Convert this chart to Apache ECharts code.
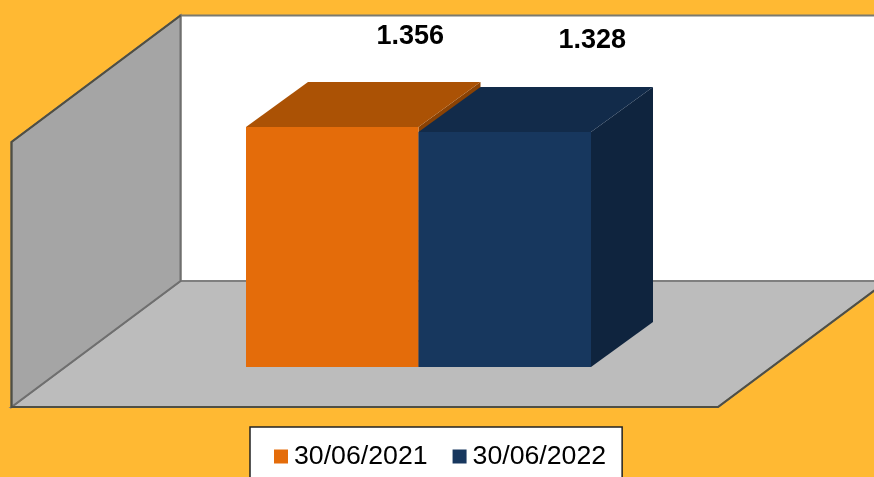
<!DOCTYPE html>
<html>
<head>
<meta charset="utf-8">
<style>html,body{margin:0;padding:0;background:#FFB933;overflow:hidden}#c{width:874px;height:477px}</style>
<script src="https://cdn.jsdelivr.net/npm/echarts@6/dist/echarts.min.js"></script>
</head>
<body>
<div id="c"></div>
<script>
var categories = [''];
var seriesNames = ['30/06/2021', '30/06/2022'];
var values2021 = [1.356];
var values2022 = [1.328];

var DEPTH_X = 62, DEPTH_Y = 45, BAR_FRACTION = 172.5 / 707;
var faces = [
  { front: '#E46C0A', top: '#AB5205', side: '#8A4204', labelDx: 78, labelDy: -90.5 },
  { front: '#17375E', top: '#122B4A', side: '#0F243E', labelDx: 87.5, labelDy: -91.5 }
];

function renderBar(params, api) {
  var idx = params.seriesIndex, f = faces[idx];
  var v = api.value(1);
  var base = api.coord([api.value(0), 0]);
  var tip = api.coord([api.value(0), v]);
  var w = api.size([1, 0])[0] * BAR_FRACTION;
  var x0 = base[0] + (idx - 1) * w, x1 = x0 + w;
  var yB = base[1], yT = tip[1];
  var ns = { lineWidth: 0 };
  return {
    type: 'group',
    children: [
      { type: 'polygon', shape: { points: [[x1, yT], [x1 + DEPTH_X, yT - DEPTH_Y], [x1 + DEPTH_X, yB - DEPTH_Y], [x1, yB]] }, style: Object.assign({ fill: f.side }, ns) },
      { type: 'polygon', shape: { points: [[x0, yT], [x0 + DEPTH_X, yT - DEPTH_Y], [x1 + DEPTH_X, yT - DEPTH_Y], [x1, yT]] }, style: Object.assign({ fill: f.top }, ns) },
      { type: 'rect', shape: { x: x0, y: yT, width: w, height: yB - yT }, style: Object.assign({ fill: f.front }, ns) },
      { type: 'text', style: { x: (x0 + x1) / 2 + f.labelDx, y: yT + f.labelDy, text: v.toFixed(3), fill: '#000', font: 'bold 27px "Liberation Sans", Arial, sans-serif', align: 'center', verticalAlign: 'middle' } }
    ]
  };
}

function makeSeries(name, values) {
  var i = seriesNames.indexOf(name);
  return {
    type: 'custom', name: name, renderItem: renderBar, coordinateSystem: 'cartesian2d',
    itemStyle: { color: faces[i].front }, encode: { x: 0, y: 1 }, silent: true, z: 5,
    data: categories.map(function (c, k) { return [k, values[k]]; })
  };
}

var chart = echarts.init(document.getElementById('c'), null, { renderer: 'canvas' });
chart.setOption({
  animation: false,
  backgroundColor: '#FFB933',
  grid: { left: 65, width: 707, top: 101.5, height: 265.5 },
  xAxis: { type: 'category', data: categories, show: false },
  yAxis: { type: 'value', min: 0, max: 1.5, interval: 0.5, show: false },
  legend: {
    left: 250, top: 427, orient: 'horizontal', icon: 'rect',
    itemWidth: 14, itemHeight: 14, itemGap: 25,
    padding: [16, 16, 18, 24],
    backgroundColor: '#fff', borderColor: '#222', borderWidth: 1.5,
    selectedMode: false,
    textStyle: { fontFamily: '"Liberation Sans", Arial, sans-serif', fontSize: 26.7, color: '#000', padding: [2, 0, 0, 1] },
    data: seriesNames
  },
  graphic: { elements: [
    { type: 'polygon', z: 1, shape: { points: [[180.5, 15.5], [900, 15.5], [900, 281], [180.5, 281]] }, style: { fill: '#fff', stroke: '#7a7a70', lineWidth: 2 } },
    { type: 'polygon', z: 1, shape: { points: [[180.5, 281], [887, 281], [718, 407], [11.5, 407]] }, style: { fill: '#BCBCBC', stroke: '#7f7f7f', lineWidth: 2 } },
    { type: 'polygon', z: 1, shape: { points: [[11.5, 142], [180.5, 15.5], [180.5, 281], [11.5, 407]] }, style: { fill: '#A5A5A5', stroke: '#6f6f6f', lineWidth: 2 } },
    { type: 'polyline', z: 1, shape: { points: [[180.5, 15.5], [11.5, 142], [11.5, 407], [718, 407], [887, 281]] }, style: { fill: null, stroke: '#4f4f45', lineWidth: 2 } }
  ] },
  series: [makeSeries(seriesNames[0], values2021), makeSeries(seriesNames[1], values2022)]
});
</script>
</body>
</html>
